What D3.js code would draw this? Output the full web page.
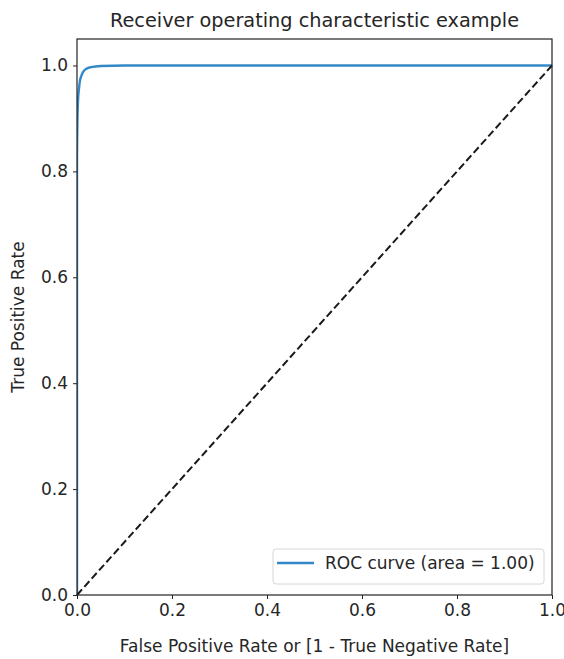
<!DOCTYPE html>
<html>
<head>
<meta charset="utf-8">
<script src="https://cdn.jsdelivr.net/npm/d3@7"></script>
<style>
  body { margin: 0; background: #fff; }
  text { font-family: "DejaVu Sans", sans-serif; fill: #262626; }
</style>
</head>
<body>
<script>
// ROC curve points
const fpr = [0, 0, 0.001, 0.002, 0.004, 0.006, 0.009, 0.013, 0.02, 0.03, 0.05, 0.1, 0.3, 1]
const tpr = [0, 0.82, 0.9, 0.93, 0.955, 0.97, 0.98, 0.988, 0.994, 0.997, 0.999, 1, 1, 1]
const chance = [0, 1]
const xTicks = [0, 0.2, 0.4, 0.6, 0.8, 1.0]
const yTicks = [0, 0.2, 0.4, 0.6, 0.8, 1.0]

const margin = { top: 39, right: 12, bottom: 64, left: 77 }
const width = 564 - margin.left - margin.right
const height = 659 - margin.top - margin.bottom

const svg = d3.select('body')
    .append('svg')
    .attr('width', 564)
    .attr('height', 659)

svg.append('defs').append('clipPath')
    .attr('id', 'plot-clip')
    .append('rect')
    .attr('width', width)
    .attr('height', height)

const g = svg.append('g')
    .attr("transform", `translate(${margin.left},${margin.top})`)

const x = d3.scaleLinear().domain([0, 1]).range([0, width])
const y = d3.scaleLinear().domain([0, 1.05]).range([height, 0])

// ROC curve
const roc = fpr.map((f, i) => [f, tpr[i]])
g.append('path')
    .datum(roc)
    .attr('clip-path', 'url(#plot-clip)')
    .attr('fill', 'none')
    .attr('stroke', '#3389c7')
    .attr('stroke-width', 2.4)
    .attr('stroke-linejoin', 'round')
    .attr('d', d3.line().x(d => x(d[0])).y(d => y(d[1])).curve(d3.curveMonotoneX))

// diagonal
g.append('path')
    .datum(chance.map(v => [v, v]))
    .attr('fill', 'none')
    .attr('stroke', '#1a1a1a')
    .attr('stroke-width', 2)
    .attr('stroke-dasharray', '7.5,3.5')
    .attr('d', d3.line().x(d => x(d[0])).y(d => y(d[1])))

// axes
const xAxis = g.append('g')
    .attr("transform", `translate(0, ${height})`)
    .call(d3.axisBottom(x).tickValues(xTicks).tickFormat(d3.format('.1f')).tickSize(4).tickPadding(5))
const yAxis = g.append('g')
    .call(d3.axisLeft(y).tickValues(yTicks).tickFormat(d3.format('.1f')).tickSize(4).tickPadding(5))
for (const ax of [xAxis, yAxis]) {
    ax.select('.domain').remove()
    ax.selectAll('line').attr('stroke', '#222')
    ax.selectAll('text').style('font-size', '17px').attr('fill', '#262626')
}

// spines
g.append('rect')
    .attr('width', width)
    .attr('height', height)
    .attr('fill', 'none')
    .attr('stroke', '#222')
    .attr('stroke-width', 1.2)

// legend
const leg = g.append('g').attr('transform', `translate(${196},${510})`)
leg.append('rect')
    .attr('width', 271)
    .attr('height', 35)
    .attr('rx', 3)
    .attr('fill', '#fff')
    .attr('fill-opacity', 0.8)
    .attr('stroke', '#d6d6d6')
leg.append('line')
    .attr('x1', 4).attr('x2', 41)
    .attr('y1', 14).attr('y2', 14)
    .attr('stroke', '#3389c7')
    .attr('stroke-width', 2.4)
leg.append('text')
    .attr('x', 52)
    .attr('y', 20)
    .style('font-size', '17px')
    .text('ROC curve (area = 1.00)')

// labels
svg.append('text')
    .attr('x', margin.left + width / 2)
    .attr('y', 27)
    .attr('text-anchor', 'middle')
    .style('font-size', '19.3px')
    .text('Receiver operating characteristic example')

svg.append('text')
    .attr('x', margin.left + width / 2)
    .attr('y', 652)
    .attr('text-anchor', 'middle')
    .style('font-size', '17px')
    .text('False Positive Rate or [1 - True Negative Rate]')

svg.append('text')
    .attr('transform', `translate(24, ${margin.top + height / 2}) rotate(-90)`)
    .attr('text-anchor', 'middle')
    .style('font-size', '17px')
    .text('True Positive Rate')
</script>
</body>
</html>
